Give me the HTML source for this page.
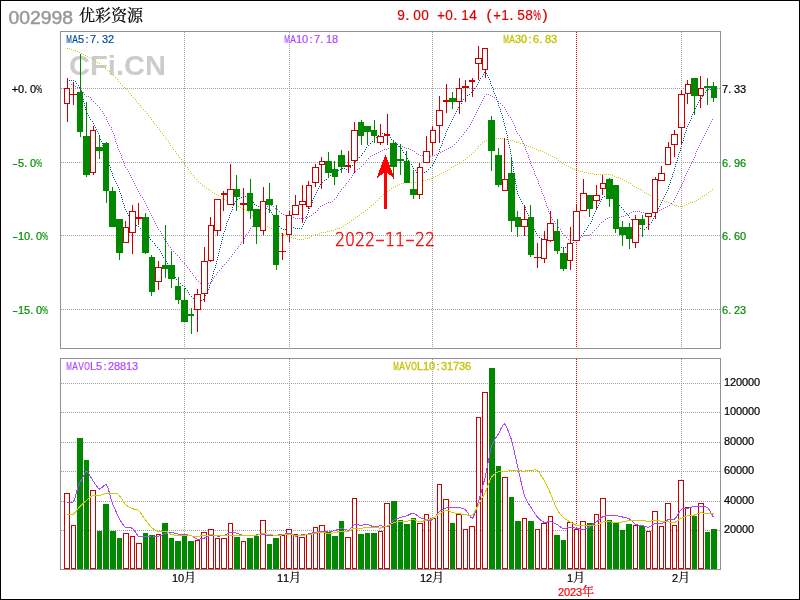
<!DOCTYPE html>
<html lang="zh-CN"><head><meta charset="utf-8"><title>002998 优彩资源</title>
<style>
html,body{margin:0;padding:0;background:#fff;}
body{width:800px;height:600px;overflow:hidden;position:relative;}
svg{position:absolute;left:0;top:0;display:block;}
#bd{position:absolute;left:0;top:0;width:798px;height:598px;border:1px solid #000;pointer-events:none;}
</style></head><body>
<svg width="800" height="600" viewBox="0 0 800 600">
<rect x="0" y="0" width="800" height="600" fill="#fff"/>
<text x="69" y="75" font-family="'Liberation Sans',sans-serif" font-weight="bold" font-size="28" fill="#cccccc" textLength="97" lengthAdjust="spacingAndGlyphs">CFi.CN</text>
<g shape-rendering="crispEdges">
<rect x="60.5" y="31.5" width="660" height="317" fill="none" stroke="#919191"/>
<rect x="60.5" y="358.5" width="660" height="211" fill="none" stroke="#919191"/>
<line x1="61" y1="88.5" x2="720" y2="88.5" stroke="#a0a0a0" stroke-dasharray="1 1" stroke-dashoffset="0"/>
<line x1="61" y1="162.5" x2="720" y2="162.5" stroke="#a0a0a0" stroke-dasharray="1 1" stroke-dashoffset="0"/>
<line x1="61" y1="235.5" x2="720" y2="235.5" stroke="#a0a0a0" stroke-dasharray="1 1" stroke-dashoffset="0"/>
<line x1="61" y1="309.5" x2="720" y2="309.5" stroke="#a0a0a0" stroke-dasharray="1 1" stroke-dashoffset="0"/>
<line x1="61" y1="383.5" x2="720" y2="383.5" stroke="#a0a0a0" stroke-dasharray="1 1" stroke-dashoffset="0"/>
<line x1="61" y1="412.5" x2="720" y2="412.5" stroke="#a0a0a0" stroke-dasharray="1 1" stroke-dashoffset="0"/>
<line x1="61" y1="442.5" x2="720" y2="442.5" stroke="#a0a0a0" stroke-dasharray="1 1" stroke-dashoffset="0"/>
<line x1="61" y1="471.5" x2="720" y2="471.5" stroke="#a0a0a0" stroke-dasharray="1 1" stroke-dashoffset="0"/>
<line x1="61" y1="501.5" x2="720" y2="501.5" stroke="#a0a0a0" stroke-dasharray="1 1" stroke-dashoffset="0"/>
<line x1="61" y1="530.5" x2="720" y2="530.5" stroke="#a0a0a0" stroke-dasharray="1 1" stroke-dashoffset="0"/>
<line x1="184.5" y1="32" x2="184.5" y2="348" stroke="#a0a0a0" stroke-dasharray="1 1" stroke-dashoffset="0"/>
<line x1="184.5" y1="359" x2="184.5" y2="569" stroke="#a0a0a0" stroke-dasharray="1 1" stroke-dashoffset="0"/>
<line x1="289.5" y1="32" x2="289.5" y2="348" stroke="#a0a0a0" stroke-dasharray="1 1" stroke-dashoffset="0"/>
<line x1="289.5" y1="359" x2="289.5" y2="569" stroke="#a0a0a0" stroke-dasharray="1 1" stroke-dashoffset="0"/>
<line x1="432.5" y1="32" x2="432.5" y2="348" stroke="#a0a0a0" stroke-dasharray="1 1" stroke-dashoffset="0"/>
<line x1="432.5" y1="359" x2="432.5" y2="569" stroke="#a0a0a0" stroke-dasharray="1 1" stroke-dashoffset="0"/>
<line x1="681.5" y1="32" x2="681.5" y2="348" stroke="#a0a0a0" stroke-dasharray="1 1" stroke-dashoffset="0"/>
<line x1="681.5" y1="359" x2="681.5" y2="569" stroke="#a0a0a0" stroke-dasharray="1 1" stroke-dashoffset="0"/>
<line x1="576.5" y1="32" x2="576.5" y2="348" stroke="#ff0000" stroke-dasharray="1 1" stroke-dashoffset="0"/>
<line x1="576.5" y1="359" x2="576.5" y2="569" stroke="#ff0000" stroke-dasharray="1 1" stroke-dashoffset="0"/>
</g>
<path d="M67 48.5h1M69 48.5h1M71 49.5h1M73 50.5h1M75 50.5h1M77 51.5h1M79 52.5h1M81 53.5h1M83 54.5h1M85 55.5h1M87 56.5h1M89 57.5h1M91 58.5h1M93 59.5h1M95 61.5h1M97 62.5h1M99 63.5h1M101 65.5h1M103 66.5h1M105 68.5h1M107 70.5h1M109 71.5h1M111 73.5h1M113 75.5h1M115 77.5h1M117 79.5h1M118 81.5h1M120 83.5h1M122 85.5h1M124 87.5h1M126 89.5h1M128 91.5h1M130 93.5h1M131 95.5h1M133 97.5h1M135 99.5h1M136 101.5h1M138 103.5h1M140 105.5h1M141 107.5h1M143 109.5h1M145 111.5h1M147 113.5h1M148 115.5h1M150 117.5h1M151 119.5h1M153 121.5h1M154 123.5h1M156 125.5h1M157 127.5h1M159 129.5h1M160 131.5h1M162 133.5h1M163 135.5h1M165 137.5h1M166 139.5h1M168 141.5h1M169 143.5h1M170 145.5h1M172 147.5h1M173 149.5h1M175 151.5h1M176 153.5h1M178 155.5h1M179 157.5h1M181 159.5h1M182 161.5h1M184 163.5h1M185 165.5h1M187 167.5h1M188 169.5h1M190 171.5h1M191 173.5h1M193 175.5h1M194 177.5h1M196 179.5h1M198 181.5h1M200 183.5h1M202 185.5h1M204 186.5h1M206 188.5h1M208 189.5h1M210 190.5h1M212 192.5h1M214 193.5h1M216 194.5h1M218 195.5h1M220 196.5h1M222 198.5h1M224 199.5h1M226 200.5h1M228 201.5h1M230 202.5h1M232 203.5h1M234 204.5h1M236 205.5h1M238 206.5h1M240 207.5h1M242 208.5h1M244 209.5h1M246 210.5h1M248 211.5h1M250 213.5h1M252 215.5h1M253 217.5h1M255 219.5h1M257 220.5h1M259 221.5h1M261 222.5h1M263 223.5h1M265 224.5h1M267 226.5h1M269 227.5h1M271 228.5h1M273 230.5h1M275 231.5h1M277 232.5h1M279 233.5h1M281 233.5h1M283 234.5h1M285 235.5h1M287 236.5h1M289 237.5h1M291 237.5h1M293 238.5h1M295 238.5h1M297 239.5h1M299 239.5h1M301 239.5h1M303 239.5h1M305 238.5h1M307 238.5h1M309 237.5h1M311 236.5h1M313 235.5h1M315 234.5h1M317 234.5h1M319 233.5h1M321 232.5h1M323 232.5h1M325 232.5h1M327 231.5h1M329 231.5h1M331 230.5h1M333 230.5h1M335 229.5h1M337 228.5h1M339 228.5h1M341 227.5h1M343 226.5h1M345 224.5h1M347 223.5h1M349 222.5h1M351 220.5h1M353 219.5h1M355 217.5h1M357 216.5h1M359 215.5h1M361 213.5h1M363 212.5h1M365 210.5h1M367 209.5h1M369 207.5h1M371 205.5h1M373 204.5h1M375 202.5h1M377 200.5h1M379 198.5h1M381 196.5h1M383 194.5h1M385 193.5h1M387 191.5h1M389 190.5h1M391 188.5h1M393 187.5h1M395 186.5h1M397 185.5h1M399 184.5h1M401 183.5h1M403 183.5h1M405 182.5h1M407 182.5h1M409 182.5h1M411 182.5h1M413 182.5h1M415 182.5h1M417 181.5h1M419 181.5h1M421 181.5h1M423 180.5h1M425 180.5h1M427 179.5h1M429 179.5h1M431 178.5h1M433 177.5h1M435 176.5h1M437 175.5h1M439 174.5h1M441 173.5h1M443 172.5h1M445 171.5h1M447 170.5h1M449 169.5h1M451 167.5h1M453 166.5h1M455 165.5h1M457 164.5h1M459 163.5h1M461 162.5h1M463 160.5h1M465 159.5h1M467 157.5h1M469 155.5h1M471 154.5h1M473 152.5h1M475 150.5h1M477 148.5h1M478 146.5h1M480 144.5h1M482 142.5h1M484 141.5h1M486 140.5h1M488 139.5h1M490 139.5h1M492 139.5h1M494 139.5h1M496 138.5h1M498 138.5h1M500 138.5h1M502 138.5h1M504 138.5h1M506 139.5h1M508 139.5h1M510 140.5h1M512 140.5h1M514 141.5h1M516 142.5h1M518 142.5h1M520 143.5h1M522 143.5h1M524 144.5h1M526 145.5h1M528 146.5h1M530 146.5h1M532 147.5h1M534 148.5h1M536 149.5h1M538 150.5h1M540 150.5h1M542 151.5h1M544 152.5h1M546 153.5h1M548 154.5h1M550 155.5h1M552 156.5h1M554 157.5h1M556 158.5h1M558 160.5h1M560 161.5h1M562 163.5h1M564 164.5h1M566 165.5h1M568 166.5h1M570 167.5h1M572 168.5h1M574 169.5h1M576 169.5h1M578 170.5h1M580 171.5h1M582 171.5h1M584 172.5h1M586 172.5h1M588 173.5h1M590 173.5h1M592 173.5h1M594 174.5h1M596 174.5h1M598 174.5h1M600 174.5h1M602 174.5h1M604 174.5h1M606 174.5h1M608 174.5h1M610 174.5h1M612 175.5h1M614 176.5h1M616 177.5h1M618 177.5h1M620 178.5h1M622 179.5h1M624 180.5h1M626 181.5h1M628 182.5h1M630 183.5h1M632 185.5h1M634 186.5h1M636 187.5h1M638 188.5h1M640 189.5h1M642 190.5h1M644 192.5h1M646 193.5h1M648 194.5h1M650 195.5h1M652 196.5h1M654 197.5h1M656 198.5h1M658 199.5h1M660 200.5h1M662 200.5h1M664 201.5h1M666 201.5h1M668 202.5h1M670 203.5h1M672 204.5h1M674 205.5h1M676 205.5h1M678 206.5h1M680 206.5h1M682 206.5h1M684 205.5h1M686 204.5h1M688 203.5h1M690 202.5h1M692 202.5h1M694 201.5h1M696 200.5h1M698 199.5h1M700 198.5h1M702 196.5h1M704 195.5h1M706 194.5h1M708 192.5h1M710 191.5h1M712 189.5h1" stroke="#cccc00" fill="none" shape-rendering="crispEdges"/>
<path d="M71 84.5h1M73 85.5h1M75 86.5h1M77 87.5h1M79 88.5h1M81 90.5h1M83 92.5h1M84 94.5h1M86 96.5h1M88 96.5h1M90 97.5h1M91 99.5h1M93 101.5h1M95 103.5h1M97 105.5h1M99 107.5h1M100 109.5h1M102 111.5h1M103 113.5h1M104 115.5h1M106 117.5h1M106 119.5h1M107 121.5h1M108 123.5h1M109 125.5h1M111 127.5h1M111 129.5h1M112 131.5h1M113 133.5h1M114 135.5h1M114 137.5h1M115 139.5h1M115 141.5h1M116 143.5h1M117 145.5h1M117 147.5h1M118 149.5h1M119 151.5h1M120 153.5h1M121 155.5h1M121 157.5h1M122 159.5h1M123 161.5h1M124 163.5h1M124 165.5h1M125 167.5h1M127 169.5h1M128 171.5h1M129 173.5h1M130 175.5h1M131 177.5h1M132 179.5h1M133 181.5h1M134 183.5h1M135 185.5h1M136 187.5h1M137 189.5h1M138 191.5h1M139 193.5h1M140 195.5h1M142 197.5h1M143 199.5h1M144 201.5h1M145 203.5h1M146 205.5h1M147 207.5h1M148 209.5h1M149 211.5h1M150 213.5h1M151 215.5h1M152 217.5h1M153 219.5h1M154 221.5h1M155 223.5h1M156 225.5h1M157 227.5h1M158 229.5h1M160 231.5h1M161 233.5h1M162 235.5h1M163 237.5h1M164 239.5h1M166 241.5h1M167 243.5h1M168 245.5h1M170 247.5h1M171 249.5h1M173 251.5h1M175 253.5h1M177 255.5h1M179 257.5h1M180 259.5h1M182 261.5h1M184 263.5h1M186 265.5h1M187 267.5h1M189 269.5h1M190 271.5h1M192 273.5h1M193 275.5h1M195 277.5h1M196 279.5h1M198 281.5h1M200 283.5h1M202 284.5h1M204 285.5h1M206 284.5h1M208 283.5h1M210 282.5h1M212 280.5h1M213 278.5h1M214 276.5h1M216 274.5h1M217 272.5h1M219 270.5h1M221 268.5h1M222 266.5h1M224 264.5h1M226 262.5h1M228 260.5h1M229 258.5h1M231 256.5h1M232 254.5h1M234 252.5h1M235 250.5h1M237 248.5h1M238 246.5h1M240 244.5h1M241 242.5h1M243 240.5h1M244 238.5h1M245 236.5h1M246 234.5h1M248 232.5h1M249 230.5h1M250 228.5h1M252 226.5h1M253 224.5h1M254 222.5h1M256 220.5h1M257 218.5h1M259 216.5h1M260 214.5h1M262 212.5h1M263 210.5h1M265 208.5h1M267 206.5h1M269 205.5h1M271 205.5h1M273 206.5h1M275 208.5h1M277 209.5h1M279 211.5h1M281 213.5h1M283 214.5h1M285 215.5h1M287 215.5h1M289 216.5h1M291 217.5h1M293 217.5h1M295 218.5h1M297 218.5h1M299 218.5h1M301 218.5h1M303 218.5h1M305 217.5h1M307 217.5h1M309 216.5h1M311 215.5h1M313 213.5h1M315 212.5h1M317 210.5h1M318 208.5h1M320 206.5h1M322 205.5h1M324 204.5h1M326 203.5h1M328 202.5h1M330 202.5h1M332 201.5h1M334 199.5h1M336 197.5h1M337 195.5h1M338 193.5h1M340 191.5h1M341 189.5h1M343 187.5h1M345 185.5h1M346 183.5h1M348 181.5h1M349 179.5h1M351 177.5h1M352 175.5h1M353 173.5h1M355 171.5h1M357 169.5h1M359 168.5h1M361 166.5h1M363 164.5h1M365 162.5h1M366 160.5h1M368 158.5h1M370 156.5h1M372 155.5h1M374 154.5h1M376 153.5h1M378 152.5h1M380 151.5h1M382 150.5h1M384 149.5h1M386 149.5h1M388 148.5h1M390 148.5h1M392 148.5h1M394 147.5h1M396 147.5h1M398 146.5h1M400 146.5h1M402 146.5h1M404 147.5h1M406 148.5h1M408 148.5h1M410 149.5h1M412 150.5h1M414 151.5h1M416 153.5h1M418 154.5h1M420 155.5h1M422 155.5h1M424 155.5h1M426 156.5h1M428 156.5h1M430 156.5h1M432 155.5h1M434 155.5h1M436 154.5h1M438 153.5h1M440 152.5h1M442 151.5h1M444 150.5h1M446 149.5h1M448 148.5h1M450 147.5h1M452 146.5h1M454 144.5h1M456 142.5h1M458 140.5h1M459 138.5h1M461 136.5h1M463 134.5h1M464 132.5h1M466 130.5h1M467 128.5h1M469 126.5h1M470 124.5h1M471 122.5h1M472 120.5h1M473 118.5h1M474 116.5h1M475 114.5h1M476 112.5h1M477 110.5h1M478 108.5h1M479 106.5h1M480 104.5h1M481 102.5h1M482 100.5h1M483 98.5h1M484 96.5h1M486 94.5h1M488 94.5h1M490 95.5h1M492 96.5h1M494 97.5h1M496 99.5h1M498 101.5h1M500 103.5h1M502 105.5h1M504 107.5h1M505 109.5h1M506 111.5h1M507 113.5h1M508 115.5h1M510 117.5h1M511 119.5h1M512 121.5h1M513 123.5h1M514 125.5h1M515 127.5h1M515 129.5h1M516 131.5h1M517 133.5h1M519 135.5h1M520 137.5h1M521 139.5h1M522 141.5h1M523 143.5h1M524 145.5h1M525 147.5h1M525 149.5h1M526 151.5h1M527 153.5h1M528 155.5h1M528 157.5h1M529 159.5h1M530 161.5h1M530 163.5h1M531 165.5h1M532 167.5h1M533 169.5h1M534 171.5h1M534 173.5h1M535 175.5h1M536 177.5h1M537 179.5h1M538 181.5h1M538 183.5h1M539 185.5h1M540 187.5h1M541 189.5h1M541 191.5h1M542 193.5h1M543 195.5h1M544 197.5h1M544 199.5h1M545 201.5h1M546 203.5h1M546 205.5h1M547 207.5h1M548 209.5h1M548 211.5h1M549 213.5h1M550 215.5h1M551 217.5h1M552 219.5h1M554 221.5h1M555 223.5h1M557 225.5h1M558 227.5h1M560 229.5h1M561 231.5h1M562 233.5h1M564 235.5h1M566 237.5h1M568 239.5h1M570 240.5h1M572 240.5h1M574 240.5h1M576 239.5h1M578 238.5h1M580 237.5h1M582 236.5h1M584 235.5h1M586 235.5h1M588 235.5h1M590 234.5h1M592 232.5h1M594 230.5h1M596 228.5h1M598 226.5h1M599 224.5h1M601 222.5h1M603 221.5h1M605 219.5h1M607 218.5h1M609 217.5h1M611 217.5h1M613 217.5h1M615 218.5h1M617 217.5h1M619 217.5h1M621 216.5h1M623 216.5h1M625 215.5h1M627 214.5h1M629 213.5h1M631 212.5h1M633 211.5h1M635 211.5h1M637 211.5h1M639 211.5h1M641 212.5h1M643 212.5h1M645 213.5h1M647 214.5h1M649 214.5h1M651 213.5h1M653 212.5h1M655 211.5h1M657 210.5h1M659 210.5h1M661 209.5h1M663 208.5h1M665 207.5h1M667 206.5h1M669 205.5h1M671 203.5h1M673 201.5h1M674 199.5h1M675 197.5h1M676 195.5h1M677 193.5h1M678 191.5h1M679 189.5h1M680 187.5h1M681 185.5h1M682 183.5h1M683 181.5h1M684 179.5h1M684 177.5h1M685 175.5h1M686 173.5h1M687 171.5h1M688 169.5h1M689 167.5h1M690 165.5h1M691 163.5h1M692 161.5h1M693 159.5h1M694 157.5h1M695 155.5h1M695 153.5h1M696 151.5h1M697 149.5h1M698 147.5h1M699 145.5h1M700 143.5h1M701 141.5h1M702 139.5h1M703 137.5h1M704 135.5h1M705 133.5h1M706 131.5h1M707 129.5h1M708 127.5h1M709 125.5h1M710 123.5h1M711 121.5h1M712 119.5h1" stroke="#aa46ff" fill="none" shape-rendering="crispEdges"/>
<path d="M67 80.5h1M69 80.5h1M71 80.5h1M73 80.5h1M75 81.5h1M76 83.5h1M78 85.5h1M79 87.5h1M80 89.5h1M81 91.5h1M81 93.5h1M82 95.5h1M82 97.5h1M83 99.5h1M83 101.5h1M84 103.5h1M84 105.5h1M85 107.5h1M85 109.5h1M86 111.5h1M87 113.5h1M88 115.5h1M89 117.5h1M90 119.5h1M92 121.5h1M93 123.5h1M94 125.5h1M95 127.5h1M96 129.5h1M97 131.5h1M98 133.5h1M99 135.5h1M99 137.5h1M100 139.5h1M101 141.5h1M102 143.5h1M102 145.5h1M103 147.5h1M104 149.5h1M105 151.5h1M105 153.5h1M106 155.5h1M107 157.5h1M107 159.5h1M108 161.5h1M108 163.5h1M109 165.5h1M110 167.5h1M110 169.5h1M111 171.5h1M112 173.5h1M112 175.5h1M113 177.5h1M114 179.5h1M115 181.5h1M116 183.5h1M117 185.5h1M118 187.5h1M119 189.5h1M119 191.5h1M120 193.5h1M121 195.5h1M121 197.5h1M122 199.5h1M122 201.5h1M123 203.5h1M124 205.5h1M124 207.5h1M125 209.5h1M126 211.5h1M127 213.5h1M128 215.5h1M129 217.5h1M131 219.5h1M132 221.5h1M134 223.5h1M136 225.5h1M138 226.5h1M140 228.5h1M142 229.5h1M144 231.5h1M146 233.5h1M147 235.5h1M149 237.5h1M150 239.5h1M152 241.5h1M154 243.5h1M155 245.5h1M157 247.5h1M159 249.5h1M160 251.5h1M161 253.5h1M162 255.5h1M163 257.5h1M165 259.5h1M166 261.5h1M167 263.5h1M168 265.5h1M169 267.5h1M170 269.5h1M171 271.5h1M172 273.5h1M173 275.5h1M175 277.5h1M176 279.5h1M178 281.5h1M180 283.5h1M182 285.5h1M184 286.5h1M185 288.5h1M187 290.5h1M188 292.5h1M189 294.5h1M191 296.5h1M193 298.5h1M195 300.5h1M197 301.5h1M199 301.5h1M201 300.5h1M203 299.5h1M204 297.5h1M205 295.5h1M206 293.5h1M207 291.5h1M208 289.5h1M209 287.5h1M209 285.5h1M210 283.5h1M211 281.5h1M211 279.5h1M212 277.5h1M212 275.5h1M213 273.5h1M213 271.5h1M214 269.5h1M215 267.5h1M215 265.5h1M216 263.5h1M216 261.5h1M217 259.5h1M217 257.5h1M218 255.5h1M218 253.5h1M219 251.5h1M219 249.5h1M220 247.5h1M220 245.5h1M221 243.5h1M221 241.5h1M222 239.5h1M222 237.5h1M223 235.5h1M223 233.5h1M224 231.5h1M225 229.5h1M225 227.5h1M226 225.5h1M226 223.5h1M227 221.5h1M228 219.5h1M229 217.5h1M229 215.5h1M230 213.5h1M231 211.5h1M232 209.5h1M232 207.5h1M233 205.5h1M234 203.5h1M235 201.5h1M237 199.5h1M239 198.5h1M241 197.5h1M243 196.5h1M245 196.5h1M247 197.5h1M249 198.5h1M251 200.5h1M253 202.5h1M254 204.5h1M256 205.5h1M258 206.5h1M260 207.5h1M262 207.5h1M264 208.5h1M266 208.5h1M268 209.5h1M270 210.5h1M271 212.5h1M272 214.5h1M273 216.5h1M274 218.5h1M275 220.5h1M277 222.5h1M278 224.5h1M279 226.5h1M281 228.5h1M283 229.5h1M285 229.5h1M287 228.5h1M289 227.5h1M291 227.5h1M293 227.5h1M295 228.5h1M297 228.5h1M299 228.5h1M301 228.5h1M302 226.5h1M303 224.5h1M304 222.5h1M305 220.5h1M306 218.5h1M306 216.5h1M307 214.5h1M308 212.5h1M308 210.5h1M309 208.5h1M310 206.5h1M311 204.5h1M312 202.5h1M312 200.5h1M313 198.5h1M314 196.5h1M315 194.5h1M316 192.5h1M317 190.5h1M318 188.5h1M319 186.5h1M320 184.5h1M322 182.5h1M324 180.5h1M326 179.5h1M328 177.5h1M330 175.5h1M332 174.5h1M334 172.5h1M336 171.5h1M338 170.5h1M340 169.5h1M342 168.5h1M344 168.5h1M346 169.5h1M348 168.5h1M350 167.5h1M352 165.5h1M354 163.5h1M355 161.5h1M357 159.5h1M359 157.5h1M361 155.5h1M362 153.5h1M364 151.5h1M365 149.5h1M366 147.5h1M368 145.5h1M370 143.5h1M372 141.5h1M374 139.5h1M376 137.5h1M378 135.5h1M380 134.5h1M382 133.5h1M384 133.5h1M386 134.5h1M388 135.5h1M390 137.5h1M391 139.5h1M393 141.5h1M395 142.5h1M397 144.5h1M399 146.5h1M401 148.5h1M402 150.5h1M403 152.5h1M405 154.5h1M406 156.5h1M407 158.5h1M408 160.5h1M409 162.5h1M411 164.5h1M412 166.5h1M413 168.5h1M415 170.5h1M416 172.5h1M418 173.5h1M420 174.5h1M422 173.5h1M424 172.5h1M426 171.5h1M428 169.5h1M430 167.5h1M432 165.5h1M433 163.5h1M434 161.5h1M435 159.5h1M436 157.5h1M437 155.5h1M438 153.5h1M439 151.5h1M439 149.5h1M440 147.5h1M441 145.5h1M442 143.5h1M442 141.5h1M443 139.5h1M444 137.5h1M445 135.5h1M445 133.5h1M446 131.5h1M447 129.5h1M448 127.5h1M449 125.5h1M450 123.5h1M451 121.5h1M452 119.5h1M453 117.5h1M454 115.5h1M455 113.5h1M456 111.5h1M457 109.5h1M458 107.5h1M459 105.5h1M461 103.5h1M462 101.5h1M463 99.5h1M465 97.5h1M467 95.5h1M469 94.5h1M471 92.5h1M473 90.5h1M474 88.5h1M476 86.5h1M477 84.5h1M478 82.5h1M479 80.5h1M480 78.5h1M482 76.5h1M483 74.5h1M484 72.5h1M486 73.5h1M487 75.5h1M488 77.5h1M489 79.5h1M490 81.5h1M490 83.5h1M491 85.5h1M492 87.5h1M493 89.5h1M493 91.5h1M494 93.5h1M495 95.5h1M496 97.5h1M496 99.5h1M497 101.5h1M498 103.5h1M498 105.5h1M499 107.5h1M500 109.5h1M500 111.5h1M501 113.5h1M502 115.5h1M502 117.5h1M503 119.5h1M503 121.5h1M504 123.5h1M504 125.5h1M505 127.5h1M505 129.5h1M506 131.5h1M506 133.5h1M507 135.5h1M507 137.5h1M507 139.5h1M508 141.5h1M508 143.5h1M509 145.5h1M509 147.5h1M510 149.5h1M510 151.5h1M510 153.5h1M511 155.5h1M511 157.5h1M511 159.5h1M512 161.5h1M512 163.5h1M512 165.5h1M513 167.5h1M513 169.5h1M513 171.5h1M514 173.5h1M514 175.5h1M514 177.5h1M515 179.5h1M515 181.5h1M515 183.5h1M516 185.5h1M516 187.5h1M516 189.5h1M517 191.5h1M517 193.5h1M518 195.5h1M519 197.5h1M520 199.5h1M521 201.5h1M522 203.5h1M524 205.5h1M525 207.5h1M525 209.5h1M526 211.5h1M527 213.5h1M528 215.5h1M529 217.5h1M530 219.5h1M531 221.5h1M531 223.5h1M532 225.5h1M533 227.5h1M534 229.5h1M535 231.5h1M536 233.5h1M537 235.5h1M539 237.5h1M541 238.5h1M543 239.5h1M545 239.5h1M547 239.5h1M549 238.5h1M551 239.5h1M553 240.5h1M555 242.5h1M557 244.5h1M559 246.5h1M561 247.5h1M563 247.5h1M565 247.5h1M567 246.5h1M569 245.5h1M571 244.5h1M573 242.5h1M575 240.5h1M577 238.5h1M579 237.5h1M581 235.5h1M583 233.5h1M584 231.5h1M586 229.5h1M587 227.5h1M588 225.5h1M590 223.5h1M591 221.5h1M592 219.5h1M592 217.5h1M593 215.5h1M594 213.5h1M595 211.5h1M596 209.5h1M597 207.5h1M598 205.5h1M599 203.5h1M600 201.5h1M601 199.5h1M602 197.5h1M604 196.5h1M606 195.5h1M608 195.5h1M610 196.5h1M612 198.5h1M613 200.5h1M615 202.5h1M617 204.5h1M619 205.5h1M621 207.5h1M623 209.5h1M624 211.5h1M626 213.5h1M628 215.5h1M629 217.5h1M631 219.5h1M632 221.5h1M634 223.5h1M636 225.5h1M638 226.5h1M640 228.5h1M642 229.5h1M644 229.5h1M646 227.5h1M648 226.5h1M649 224.5h1M651 222.5h1M652 220.5h1M653 218.5h1M654 216.5h1M655 214.5h1M656 212.5h1M657 210.5h1M658 208.5h1M659 206.5h1M660 204.5h1M661 202.5h1M662 200.5h1M663 198.5h1M664 196.5h1M665 194.5h1M666 192.5h1M667 190.5h1M668 188.5h1M668 186.5h1M669 184.5h1M670 182.5h1M670 180.5h1M671 178.5h1M672 176.5h1M672 174.5h1M673 172.5h1M674 170.5h1M674 168.5h1M675 166.5h1M675 164.5h1M676 162.5h1M677 160.5h1M677 158.5h1M678 156.5h1M678 154.5h1M679 152.5h1M680 150.5h1M680 148.5h1M681 146.5h1M681 144.5h1M682 142.5h1M683 140.5h1M683 138.5h1M684 136.5h1M684 134.5h1M685 132.5h1M686 130.5h1M686 128.5h1M687 126.5h1M688 124.5h1M689 122.5h1M690 120.5h1M691 118.5h1M691 116.5h1M692 114.5h1M693 112.5h1M694 110.5h1M695 108.5h1M696 106.5h1M697 104.5h1M698 102.5h1M699 100.5h1M701 98.5h1M702 96.5h1M703 94.5h1M705 92.5h1M706 90.5h1M708 89.5h1M710 89.5h1M712 90.5h1" stroke="#0050a0" fill="none" shape-rendering="crispEdges"/>
<g shape-rendering="crispEdges">
<rect x="67" y="78" width="1" height="10" fill="#cc0000"/>
<rect x="67" y="104" width="1" height="18" fill="#cc0000"/>
<rect x="64" y="88" width="6" height="16" fill="#cc0000"/>
<rect x="65" y="89" width="4" height="14" fill="#fff"/>
<rect x="73" y="82" width="1" height="23" fill="#cc0000"/>
<rect x="70" y="94" width="7" height="1" fill="#cc0000"/>
<rect x="80" y="54" width="1" height="83" fill="#008800"/>
<rect x="77" y="92" width="6" height="40" fill="#008800"/>
<rect x="86" y="102" width="1" height="75" fill="#008800"/>
<rect x="83" y="136" width="7" height="39" fill="#008800"/>
<rect x="93" y="126" width="1" height="4" fill="#cc0000"/>
<rect x="93" y="173" width="1" height="2" fill="#cc0000"/>
<rect x="90" y="130" width="6" height="43" fill="#cc0000"/>
<rect x="91" y="131" width="4" height="41" fill="#fff"/>
<rect x="99" y="136" width="1" height="23" fill="#008800"/>
<rect x="96" y="147" width="7" height="4" fill="#008800"/>
<rect x="106" y="142" width="1" height="61" fill="#008800"/>
<rect x="103" y="143" width="6" height="48" fill="#008800"/>
<rect x="112" y="187" width="1" height="40" fill="#008800"/>
<rect x="109" y="191" width="7" height="36" fill="#008800"/>
<rect x="119" y="219" width="1" height="41" fill="#008800"/>
<rect x="116" y="219" width="7" height="34" fill="#008800"/>
<rect x="125" y="221" width="1" height="6" fill="#cc0000"/>
<rect x="123" y="227" width="6" height="16" fill="#cc0000"/>
<rect x="124" y="228" width="4" height="14" fill="#fff"/>
<rect x="132" y="205" width="1" height="6" fill="#cc0000"/>
<rect x="132" y="233" width="1" height="21" fill="#cc0000"/>
<rect x="129" y="211" width="7" height="22" fill="#cc0000"/>
<rect x="130" y="212" width="5" height="20" fill="#fff"/>
<rect x="138" y="203" width="1" height="22" fill="#cc0000"/>
<rect x="136" y="217" width="6" height="2" fill="#cc0000"/>
<rect x="145" y="213" width="1" height="41" fill="#008800"/>
<rect x="142" y="217" width="7" height="36" fill="#008800"/>
<rect x="151" y="255" width="1" height="41" fill="#008800"/>
<rect x="149" y="257" width="6" height="35" fill="#008800"/>
<rect x="158" y="261" width="1" height="6" fill="#cc0000"/>
<rect x="158" y="282" width="1" height="8" fill="#cc0000"/>
<rect x="155" y="267" width="7" height="15" fill="#cc0000"/>
<rect x="156" y="268" width="5" height="13" fill="#fff"/>
<rect x="165" y="225" width="1" height="53" fill="#008800"/>
<rect x="162" y="265" width="6" height="4" fill="#008800"/>
<rect x="171" y="251" width="1" height="37" fill="#008800"/>
<rect x="168" y="265" width="7" height="14" fill="#008800"/>
<rect x="178" y="277" width="1" height="27" fill="#008800"/>
<rect x="175" y="286" width="6" height="14" fill="#008800"/>
<rect x="184" y="288" width="1" height="34" fill="#008800"/>
<rect x="181" y="300" width="7" height="22" fill="#008800"/>
<rect x="191" y="308" width="1" height="26" fill="#008800"/>
<rect x="188" y="314" width="6" height="2" fill="#008800"/>
<rect x="197" y="289" width="1" height="5" fill="#cc0000"/>
<rect x="197" y="310" width="1" height="22" fill="#cc0000"/>
<rect x="194" y="294" width="7" height="16" fill="#cc0000"/>
<rect x="195" y="295" width="5" height="14" fill="#fff"/>
<rect x="204" y="247" width="1" height="14" fill="#cc0000"/>
<rect x="204" y="294" width="1" height="8" fill="#cc0000"/>
<rect x="201" y="261" width="7" height="33" fill="#cc0000"/>
<rect x="202" y="262" width="5" height="31" fill="#fff"/>
<rect x="210" y="217" width="1" height="8" fill="#cc0000"/>
<rect x="210" y="261" width="1" height="1" fill="#cc0000"/>
<rect x="208" y="225" width="6" height="36" fill="#cc0000"/>
<rect x="209" y="226" width="4" height="34" fill="#fff"/>
<rect x="217" y="231" width="1" height="5" fill="#cc0000"/>
<rect x="214" y="199" width="7" height="32" fill="#cc0000"/>
<rect x="215" y="200" width="5" height="30" fill="#fff"/>
<rect x="223" y="191" width="1" height="20" fill="#cc0000"/>
<rect x="221" y="193" width="6" height="2" fill="#cc0000"/>
<rect x="230" y="164" width="1" height="25" fill="#cc0000"/>
<rect x="227" y="189" width="7" height="16" fill="#cc0000"/>
<rect x="228" y="190" width="5" height="14" fill="#fff"/>
<rect x="236" y="175" width="1" height="36" fill="#008800"/>
<rect x="234" y="189" width="6" height="8" fill="#008800"/>
<rect x="243" y="188" width="1" height="56" fill="#cc0000"/>
<rect x="240" y="203" width="7" height="2" fill="#cc0000"/>
<rect x="250" y="179" width="1" height="40" fill="#008800"/>
<rect x="247" y="193" width="6" height="18" fill="#008800"/>
<rect x="256" y="209" width="1" height="35" fill="#008800"/>
<rect x="253" y="209" width="7" height="18" fill="#008800"/>
<rect x="263" y="187" width="1" height="14" fill="#cc0000"/>
<rect x="263" y="231" width="1" height="4" fill="#cc0000"/>
<rect x="260" y="201" width="6" height="30" fill="#cc0000"/>
<rect x="261" y="202" width="4" height="28" fill="#fff"/>
<rect x="269" y="183" width="1" height="30" fill="#008800"/>
<rect x="266" y="199" width="7" height="6" fill="#008800"/>
<rect x="276" y="205" width="1" height="65" fill="#008800"/>
<rect x="273" y="215" width="6" height="50" fill="#008800"/>
<rect x="282" y="233" width="1" height="27" fill="#cc0000"/>
<rect x="279" y="251" width="7" height="1" fill="#cc0000"/>
<rect x="289" y="211" width="1" height="4" fill="#cc0000"/>
<rect x="289" y="235" width="1" height="7" fill="#cc0000"/>
<rect x="286" y="215" width="6" height="20" fill="#cc0000"/>
<rect x="287" y="216" width="4" height="18" fill="#fff"/>
<rect x="295" y="195" width="1" height="10" fill="#cc0000"/>
<rect x="292" y="205" width="7" height="10" fill="#cc0000"/>
<rect x="293" y="206" width="5" height="8" fill="#fff"/>
<rect x="302" y="185" width="1" height="16" fill="#cc0000"/>
<rect x="302" y="205" width="1" height="18" fill="#cc0000"/>
<rect x="299" y="201" width="7" height="4" fill="#cc0000"/>
<rect x="300" y="202" width="5" height="2" fill="#fff"/>
<rect x="308" y="181" width="1" height="4" fill="#cc0000"/>
<rect x="308" y="207" width="1" height="2" fill="#cc0000"/>
<rect x="306" y="185" width="6" height="22" fill="#cc0000"/>
<rect x="307" y="186" width="4" height="20" fill="#fff"/>
<rect x="315" y="164" width="1" height="3" fill="#cc0000"/>
<rect x="315" y="183" width="1" height="4" fill="#cc0000"/>
<rect x="312" y="167" width="7" height="16" fill="#cc0000"/>
<rect x="313" y="168" width="5" height="14" fill="#fff"/>
<rect x="321" y="157" width="1" height="4" fill="#cc0000"/>
<rect x="321" y="165" width="1" height="24" fill="#cc0000"/>
<rect x="319" y="161" width="6" height="4" fill="#cc0000"/>
<rect x="320" y="162" width="4" height="2" fill="#fff"/>
<rect x="328" y="152" width="1" height="26" fill="#008800"/>
<rect x="325" y="161" width="7" height="12" fill="#008800"/>
<rect x="334" y="161" width="1" height="24" fill="#008800"/>
<rect x="332" y="169" width="6" height="8" fill="#008800"/>
<rect x="341" y="150" width="1" height="23" fill="#008800"/>
<rect x="338" y="155" width="7" height="12" fill="#008800"/>
<rect x="348" y="151" width="1" height="22" fill="#cc0000"/>
<rect x="345" y="165" width="6" height="2" fill="#cc0000"/>
<rect x="354" y="122" width="1" height="8" fill="#cc0000"/>
<rect x="354" y="161" width="1" height="12" fill="#cc0000"/>
<rect x="351" y="130" width="7" height="31" fill="#cc0000"/>
<rect x="352" y="131" width="5" height="29" fill="#fff"/>
<rect x="361" y="120" width="1" height="25" fill="#008800"/>
<rect x="358" y="122" width="6" height="14" fill="#008800"/>
<rect x="367" y="126" width="1" height="19" fill="#008800"/>
<rect x="364" y="126" width="7" height="6" fill="#008800"/>
<rect x="374" y="120" width="1" height="23" fill="#008800"/>
<rect x="371" y="130" width="6" height="6" fill="#008800"/>
<rect x="380" y="124" width="1" height="12" fill="#cc0000"/>
<rect x="380" y="143" width="1" height="2" fill="#cc0000"/>
<rect x="377" y="136" width="7" height="7" fill="#cc0000"/>
<rect x="378" y="137" width="5" height="5" fill="#fff"/>
<rect x="387" y="114" width="1" height="31" fill="#cc0000"/>
<rect x="384" y="134" width="6" height="2" fill="#cc0000"/>
<rect x="393" y="140" width="1" height="39" fill="#008800"/>
<rect x="390" y="143" width="7" height="24" fill="#008800"/>
<rect x="400" y="144" width="1" height="31" fill="#008800"/>
<rect x="397" y="159" width="7" height="2" fill="#008800"/>
<rect x="406" y="151" width="1" height="32" fill="#008800"/>
<rect x="404" y="161" width="6" height="22" fill="#008800"/>
<rect x="413" y="170" width="1" height="29" fill="#008800"/>
<rect x="410" y="189" width="7" height="6" fill="#008800"/>
<rect x="419" y="163" width="1" height="4" fill="#cc0000"/>
<rect x="419" y="195" width="1" height="4" fill="#cc0000"/>
<rect x="417" y="167" width="6" height="28" fill="#cc0000"/>
<rect x="418" y="168" width="4" height="26" fill="#fff"/>
<rect x="426" y="136" width="1" height="15" fill="#cc0000"/>
<rect x="423" y="151" width="7" height="12" fill="#cc0000"/>
<rect x="424" y="152" width="5" height="10" fill="#fff"/>
<rect x="432" y="126" width="1" height="4" fill="#cc0000"/>
<rect x="432" y="143" width="1" height="12" fill="#cc0000"/>
<rect x="430" y="130" width="6" height="13" fill="#cc0000"/>
<rect x="431" y="131" width="4" height="11" fill="#fff"/>
<rect x="439" y="96" width="1" height="14" fill="#cc0000"/>
<rect x="439" y="126" width="1" height="17" fill="#cc0000"/>
<rect x="436" y="110" width="7" height="16" fill="#cc0000"/>
<rect x="437" y="111" width="5" height="14" fill="#fff"/>
<rect x="446" y="84" width="1" height="29" fill="#cc0000"/>
<rect x="443" y="100" width="6" height="2" fill="#cc0000"/>
<rect x="452" y="92" width="1" height="17" fill="#008800"/>
<rect x="449" y="98" width="7" height="4" fill="#008800"/>
<rect x="459" y="78" width="1" height="10" fill="#cc0000"/>
<rect x="459" y="102" width="1" height="12" fill="#cc0000"/>
<rect x="456" y="88" width="6" height="14" fill="#cc0000"/>
<rect x="457" y="89" width="4" height="12" fill="#fff"/>
<rect x="465" y="80" width="1" height="22" fill="#cc0000"/>
<rect x="462" y="86" width="7" height="2" fill="#cc0000"/>
<rect x="472" y="78" width="1" height="19" fill="#cc0000"/>
<rect x="469" y="80" width="6" height="2" fill="#cc0000"/>
<rect x="478" y="46" width="1" height="12" fill="#cc0000"/>
<rect x="478" y="64" width="1" height="16" fill="#cc0000"/>
<rect x="475" y="58" width="7" height="6" fill="#cc0000"/>
<rect x="476" y="59" width="5" height="4" fill="#fff"/>
<rect x="485" y="70" width="1" height="8" fill="#cc0000"/>
<rect x="482" y="48" width="6" height="22" fill="#cc0000"/>
<rect x="483" y="49" width="4" height="20" fill="#fff"/>
<rect x="491" y="116" width="1" height="55" fill="#008800"/>
<rect x="488" y="120" width="7" height="31" fill="#008800"/>
<rect x="498" y="148" width="1" height="39" fill="#008800"/>
<rect x="495" y="155" width="7" height="30" fill="#008800"/>
<rect x="504" y="138" width="1" height="41" fill="#cc0000"/>
<rect x="502" y="179" width="6" height="12" fill="#cc0000"/>
<rect x="503" y="180" width="4" height="10" fill="#fff"/>
<rect x="511" y="158" width="1" height="74" fill="#008800"/>
<rect x="508" y="173" width="7" height="48" fill="#008800"/>
<rect x="517" y="211" width="1" height="26" fill="#008800"/>
<rect x="515" y="217" width="6" height="10" fill="#008800"/>
<rect x="524" y="206" width="1" height="13" fill="#cc0000"/>
<rect x="524" y="227" width="1" height="9" fill="#cc0000"/>
<rect x="521" y="219" width="7" height="8" fill="#cc0000"/>
<rect x="522" y="220" width="5" height="6" fill="#fff"/>
<rect x="530" y="205" width="1" height="52" fill="#008800"/>
<rect x="528" y="217" width="6" height="38" fill="#008800"/>
<rect x="537" y="243" width="1" height="25" fill="#cc0000"/>
<rect x="534" y="257" width="7" height="1" fill="#cc0000"/>
<rect x="544" y="231" width="1" height="8" fill="#cc0000"/>
<rect x="544" y="259" width="1" height="4" fill="#cc0000"/>
<rect x="541" y="239" width="6" height="20" fill="#cc0000"/>
<rect x="542" y="240" width="4" height="18" fill="#fff"/>
<rect x="550" y="211" width="1" height="12" fill="#cc0000"/>
<rect x="550" y="241" width="1" height="1" fill="#cc0000"/>
<rect x="547" y="223" width="7" height="18" fill="#cc0000"/>
<rect x="548" y="224" width="5" height="16" fill="#fff"/>
<rect x="557" y="219" width="1" height="35" fill="#008800"/>
<rect x="554" y="231" width="6" height="20" fill="#008800"/>
<rect x="563" y="247" width="1" height="24" fill="#008800"/>
<rect x="560" y="253" width="7" height="16" fill="#008800"/>
<rect x="570" y="227" width="1" height="16" fill="#cc0000"/>
<rect x="570" y="261" width="1" height="9" fill="#cc0000"/>
<rect x="567" y="243" width="6" height="18" fill="#cc0000"/>
<rect x="568" y="244" width="4" height="16" fill="#fff"/>
<rect x="576" y="204" width="1" height="7" fill="#cc0000"/>
<rect x="573" y="211" width="7" height="30" fill="#cc0000"/>
<rect x="574" y="212" width="5" height="28" fill="#fff"/>
<rect x="583" y="179" width="1" height="14" fill="#cc0000"/>
<rect x="580" y="193" width="7" height="18" fill="#cc0000"/>
<rect x="581" y="194" width="5" height="16" fill="#fff"/>
<rect x="589" y="195" width="1" height="22" fill="#008800"/>
<rect x="587" y="195" width="6" height="14" fill="#008800"/>
<rect x="596" y="185" width="1" height="10" fill="#cc0000"/>
<rect x="596" y="201" width="1" height="8" fill="#cc0000"/>
<rect x="593" y="195" width="7" height="6" fill="#cc0000"/>
<rect x="594" y="196" width="5" height="4" fill="#fff"/>
<rect x="602" y="175" width="1" height="8" fill="#cc0000"/>
<rect x="602" y="189" width="1" height="6" fill="#cc0000"/>
<rect x="600" y="183" width="6" height="6" fill="#cc0000"/>
<rect x="601" y="184" width="4" height="4" fill="#fff"/>
<rect x="609" y="178" width="1" height="29" fill="#008800"/>
<rect x="606" y="179" width="7" height="20" fill="#008800"/>
<rect x="615" y="185" width="1" height="48" fill="#008800"/>
<rect x="613" y="185" width="6" height="44" fill="#008800"/>
<rect x="622" y="221" width="1" height="25" fill="#008800"/>
<rect x="619" y="227" width="7" height="8" fill="#008800"/>
<rect x="629" y="223" width="1" height="26" fill="#008800"/>
<rect x="626" y="227" width="6" height="12" fill="#008800"/>
<rect x="635" y="215" width="1" height="4" fill="#cc0000"/>
<rect x="635" y="243" width="1" height="5" fill="#cc0000"/>
<rect x="632" y="219" width="7" height="24" fill="#cc0000"/>
<rect x="633" y="220" width="5" height="22" fill="#fff"/>
<rect x="642" y="215" width="1" height="22" fill="#008800"/>
<rect x="639" y="219" width="6" height="6" fill="#008800"/>
<rect x="648" y="217" width="1" height="13" fill="#cc0000"/>
<rect x="645" y="213" width="7" height="4" fill="#cc0000"/>
<rect x="646" y="214" width="5" height="2" fill="#fff"/>
<rect x="655" y="177" width="1" height="2" fill="#cc0000"/>
<rect x="655" y="213" width="1" height="6" fill="#cc0000"/>
<rect x="652" y="179" width="6" height="34" fill="#cc0000"/>
<rect x="653" y="180" width="4" height="32" fill="#fff"/>
<rect x="661" y="166" width="1" height="7" fill="#cc0000"/>
<rect x="658" y="173" width="7" height="8" fill="#cc0000"/>
<rect x="659" y="174" width="5" height="6" fill="#fff"/>
<rect x="668" y="142" width="1" height="5" fill="#cc0000"/>
<rect x="665" y="147" width="6" height="18" fill="#cc0000"/>
<rect x="666" y="148" width="4" height="16" fill="#fff"/>
<rect x="674" y="130" width="1" height="4" fill="#cc0000"/>
<rect x="674" y="145" width="1" height="12" fill="#cc0000"/>
<rect x="671" y="134" width="7" height="11" fill="#cc0000"/>
<rect x="672" y="135" width="5" height="9" fill="#fff"/>
<rect x="681" y="90" width="1" height="4" fill="#cc0000"/>
<rect x="681" y="128" width="1" height="17" fill="#cc0000"/>
<rect x="678" y="94" width="7" height="34" fill="#cc0000"/>
<rect x="679" y="95" width="5" height="32" fill="#fff"/>
<rect x="687" y="80" width="1" height="4" fill="#cc0000"/>
<rect x="687" y="94" width="1" height="10" fill="#cc0000"/>
<rect x="685" y="84" width="6" height="10" fill="#cc0000"/>
<rect x="686" y="85" width="4" height="8" fill="#fff"/>
<rect x="694" y="78" width="1" height="37" fill="#008800"/>
<rect x="691" y="78" width="7" height="18" fill="#008800"/>
<rect x="700" y="76" width="1" height="12" fill="#cc0000"/>
<rect x="700" y="96" width="1" height="12" fill="#cc0000"/>
<rect x="698" y="88" width="6" height="8" fill="#cc0000"/>
<rect x="699" y="89" width="4" height="6" fill="#fff"/>
<rect x="707" y="78" width="1" height="27" fill="#008800"/>
<rect x="704" y="86" width="7" height="2" fill="#008800"/>
<rect x="713" y="82" width="1" height="20" fill="#008800"/>
<rect x="711" y="86" width="6" height="12" fill="#008800"/>
<rect x="64" y="493" width="6" height="76" fill="#cc0000"/>
<rect x="65" y="494" width="4" height="74" fill="#fff"/>
<rect x="71" y="525" width="5" height="44" fill="#cc0000"/>
<rect x="72" y="526" width="3" height="42" fill="#fff"/>
<rect x="77" y="438" width="6" height="131" fill="#008800"/>
<rect x="84" y="460" width="5" height="109" fill="#008800"/>
<rect x="90" y="490" width="6" height="79" fill="#cc0000"/>
<rect x="91" y="491" width="4" height="77" fill="#fff"/>
<rect x="97" y="531" width="5" height="38" fill="#008800"/>
<rect x="103" y="504" width="6" height="65" fill="#008800"/>
<rect x="110" y="531" width="6" height="38" fill="#008800"/>
<rect x="117" y="538" width="5" height="31" fill="#008800"/>
<rect x="123" y="533" width="6" height="36" fill="#cc0000"/>
<rect x="124" y="534" width="4" height="34" fill="#fff"/>
<rect x="130" y="536" width="5" height="33" fill="#cc0000"/>
<rect x="131" y="537" width="3" height="31" fill="#fff"/>
<rect x="136" y="543" width="6" height="26" fill="#cc0000"/>
<rect x="137" y="544" width="4" height="24" fill="#fff"/>
<rect x="143" y="533" width="5" height="36" fill="#008800"/>
<rect x="149" y="535" width="6" height="34" fill="#008800"/>
<rect x="156" y="534" width="5" height="35" fill="#cc0000"/>
<rect x="157" y="535" width="3" height="33" fill="#fff"/>
<rect x="162" y="523" width="6" height="46" fill="#008800"/>
<rect x="169" y="538" width="5" height="31" fill="#008800"/>
<rect x="175" y="541" width="6" height="28" fill="#008800"/>
<rect x="182" y="536" width="5" height="33" fill="#008800"/>
<rect x="188" y="541" width="6" height="28" fill="#008800"/>
<rect x="195" y="540" width="5" height="29" fill="#cc0000"/>
<rect x="196" y="541" width="3" height="27" fill="#fff"/>
<rect x="201" y="532" width="6" height="37" fill="#cc0000"/>
<rect x="202" y="533" width="4" height="35" fill="#fff"/>
<rect x="208" y="529" width="6" height="40" fill="#cc0000"/>
<rect x="209" y="530" width="4" height="38" fill="#fff"/>
<rect x="215" y="538" width="5" height="31" fill="#cc0000"/>
<rect x="216" y="539" width="3" height="29" fill="#fff"/>
<rect x="221" y="538" width="6" height="31" fill="#cc0000"/>
<rect x="222" y="539" width="4" height="29" fill="#fff"/>
<rect x="228" y="523" width="5" height="46" fill="#cc0000"/>
<rect x="229" y="524" width="3" height="44" fill="#fff"/>
<rect x="234" y="537" width="6" height="32" fill="#008800"/>
<rect x="241" y="541" width="5" height="28" fill="#cc0000"/>
<rect x="242" y="542" width="3" height="26" fill="#fff"/>
<rect x="247" y="538" width="6" height="31" fill="#008800"/>
<rect x="254" y="536" width="5" height="33" fill="#008800"/>
<rect x="260" y="520" width="6" height="49" fill="#cc0000"/>
<rect x="261" y="521" width="4" height="47" fill="#fff"/>
<rect x="267" y="544" width="5" height="25" fill="#008800"/>
<rect x="273" y="538" width="6" height="31" fill="#008800"/>
<rect x="280" y="535" width="5" height="34" fill="#cc0000"/>
<rect x="281" y="536" width="3" height="32" fill="#fff"/>
<rect x="286" y="529" width="6" height="40" fill="#cc0000"/>
<rect x="287" y="530" width="4" height="38" fill="#fff"/>
<rect x="293" y="534" width="5" height="35" fill="#cc0000"/>
<rect x="294" y="535" width="3" height="33" fill="#fff"/>
<rect x="299" y="537" width="6" height="32" fill="#cc0000"/>
<rect x="300" y="538" width="4" height="30" fill="#fff"/>
<rect x="306" y="534" width="6" height="35" fill="#cc0000"/>
<rect x="307" y="535" width="4" height="33" fill="#fff"/>
<rect x="313" y="527" width="5" height="42" fill="#cc0000"/>
<rect x="314" y="528" width="3" height="40" fill="#fff"/>
<rect x="319" y="525" width="6" height="44" fill="#cc0000"/>
<rect x="320" y="526" width="4" height="42" fill="#fff"/>
<rect x="326" y="532" width="5" height="37" fill="#008800"/>
<rect x="332" y="536" width="6" height="33" fill="#008800"/>
<rect x="339" y="521" width="5" height="48" fill="#008800"/>
<rect x="345" y="537" width="6" height="32" fill="#cc0000"/>
<rect x="346" y="538" width="4" height="30" fill="#fff"/>
<rect x="352" y="498" width="5" height="71" fill="#cc0000"/>
<rect x="353" y="499" width="3" height="69" fill="#fff"/>
<rect x="358" y="534" width="6" height="35" fill="#008800"/>
<rect x="365" y="533" width="5" height="36" fill="#008800"/>
<rect x="371" y="533" width="6" height="36" fill="#008800"/>
<rect x="378" y="531" width="5" height="38" fill="#cc0000"/>
<rect x="379" y="532" width="3" height="36" fill="#fff"/>
<rect x="384" y="503" width="6" height="66" fill="#cc0000"/>
<rect x="385" y="504" width="4" height="64" fill="#fff"/>
<rect x="391" y="501" width="6" height="68" fill="#008800"/>
<rect x="398" y="520" width="5" height="49" fill="#008800"/>
<rect x="404" y="524" width="6" height="45" fill="#008800"/>
<rect x="411" y="518" width="5" height="51" fill="#008800"/>
<rect x="417" y="523" width="6" height="46" fill="#cc0000"/>
<rect x="418" y="524" width="4" height="44" fill="#fff"/>
<rect x="424" y="514" width="5" height="55" fill="#cc0000"/>
<rect x="425" y="515" width="3" height="53" fill="#fff"/>
<rect x="430" y="518" width="6" height="51" fill="#cc0000"/>
<rect x="431" y="519" width="4" height="49" fill="#fff"/>
<rect x="437" y="484" width="5" height="85" fill="#cc0000"/>
<rect x="438" y="485" width="3" height="83" fill="#fff"/>
<rect x="443" y="499" width="6" height="70" fill="#cc0000"/>
<rect x="444" y="500" width="4" height="68" fill="#fff"/>
<rect x="450" y="523" width="5" height="46" fill="#008800"/>
<rect x="456" y="514" width="6" height="55" fill="#cc0000"/>
<rect x="457" y="515" width="4" height="53" fill="#fff"/>
<rect x="463" y="529" width="5" height="40" fill="#cc0000"/>
<rect x="464" y="530" width="3" height="38" fill="#fff"/>
<rect x="469" y="526" width="6" height="43" fill="#cc0000"/>
<rect x="470" y="527" width="4" height="41" fill="#fff"/>
<rect x="476" y="417" width="5" height="152" fill="#cc0000"/>
<rect x="477" y="418" width="3" height="150" fill="#fff"/>
<rect x="482" y="392" width="6" height="177" fill="#cc0000"/>
<rect x="483" y="393" width="4" height="175" fill="#fff"/>
<rect x="489" y="368" width="6" height="201" fill="#008800"/>
<rect x="496" y="466" width="5" height="103" fill="#008800"/>
<rect x="502" y="477" width="6" height="92" fill="#cc0000"/>
<rect x="503" y="478" width="4" height="90" fill="#fff"/>
<rect x="509" y="497" width="5" height="72" fill="#008800"/>
<rect x="515" y="521" width="6" height="48" fill="#008800"/>
<rect x="522" y="518" width="5" height="51" fill="#cc0000"/>
<rect x="523" y="519" width="3" height="49" fill="#fff"/>
<rect x="528" y="521" width="6" height="48" fill="#008800"/>
<rect x="535" y="529" width="5" height="40" fill="#cc0000"/>
<rect x="536" y="530" width="3" height="38" fill="#fff"/>
<rect x="541" y="523" width="6" height="46" fill="#cc0000"/>
<rect x="542" y="524" width="4" height="44" fill="#fff"/>
<rect x="548" y="516" width="5" height="53" fill="#cc0000"/>
<rect x="549" y="517" width="3" height="51" fill="#fff"/>
<rect x="554" y="535" width="6" height="34" fill="#008800"/>
<rect x="561" y="540" width="5" height="29" fill="#008800"/>
<rect x="567" y="522" width="6" height="47" fill="#cc0000"/>
<rect x="568" y="523" width="4" height="45" fill="#fff"/>
<rect x="574" y="529" width="5" height="40" fill="#cc0000"/>
<rect x="575" y="530" width="3" height="38" fill="#fff"/>
<rect x="580" y="521" width="6" height="48" fill="#cc0000"/>
<rect x="581" y="522" width="4" height="46" fill="#fff"/>
<rect x="587" y="523" width="6" height="46" fill="#008800"/>
<rect x="594" y="514" width="5" height="55" fill="#cc0000"/>
<rect x="595" y="515" width="3" height="53" fill="#fff"/>
<rect x="600" y="498" width="6" height="71" fill="#cc0000"/>
<rect x="601" y="499" width="4" height="69" fill="#fff"/>
<rect x="607" y="520" width="5" height="49" fill="#008800"/>
<rect x="613" y="523" width="6" height="46" fill="#008800"/>
<rect x="620" y="530" width="5" height="39" fill="#008800"/>
<rect x="626" y="524" width="6" height="45" fill="#008800"/>
<rect x="633" y="525" width="5" height="44" fill="#cc0000"/>
<rect x="634" y="526" width="3" height="42" fill="#fff"/>
<rect x="639" y="526" width="6" height="43" fill="#008800"/>
<rect x="646" y="531" width="5" height="38" fill="#cc0000"/>
<rect x="647" y="532" width="3" height="36" fill="#fff"/>
<rect x="652" y="511" width="6" height="58" fill="#cc0000"/>
<rect x="653" y="512" width="4" height="56" fill="#fff"/>
<rect x="659" y="526" width="5" height="43" fill="#cc0000"/>
<rect x="660" y="527" width="3" height="41" fill="#fff"/>
<rect x="665" y="503" width="6" height="66" fill="#cc0000"/>
<rect x="666" y="504" width="4" height="64" fill="#fff"/>
<rect x="672" y="525" width="5" height="44" fill="#cc0000"/>
<rect x="673" y="526" width="3" height="42" fill="#fff"/>
<rect x="678" y="480" width="6" height="89" fill="#cc0000"/>
<rect x="679" y="481" width="4" height="87" fill="#fff"/>
<rect x="685" y="507" width="6" height="62" fill="#cc0000"/>
<rect x="686" y="508" width="4" height="60" fill="#fff"/>
<rect x="692" y="516" width="5" height="53" fill="#008800"/>
<rect x="698" y="503" width="6" height="66" fill="#cc0000"/>
<rect x="699" y="504" width="4" height="64" fill="#fff"/>
<rect x="705" y="532" width="5" height="37" fill="#008800"/>
<rect x="711" y="529" width="6" height="40" fill="#008800"/>
</g>
<polyline points="67.2,502.5 67.8,502.5 68.6,502.6 69.6,502.7 70.7,502.7 71.6,502.7 72.2,502.5 72.7,502.2 73.1,501.8 73.5,501.3 73.9,500.6 74.4,499.8 74.8,498.8 75.3,497.0 76.0,494.4 76.8,491.3 77.7,488.2 78.4,485.5 79.0,483.8 79.5,482.7 80.0,481.7 80.6,480.9 81.2,480.2 81.8,479.5 82.2,478.8 82.8,477.7 83.5,476.1 84.3,474.3 85.1,472.7 85.9,471.6 86.6,471.2 87.5,472.0 88.6,473.6 90.0,475.7 91.3,478.0 92.6,480.0 93.5,481.5 94.4,482.7 95.4,484.3 96.5,485.9 97.6,487.3 98.6,488.5 99.5,489.0 100.4,488.7 101.7,487.7 103.0,486.4 104.3,485.2 105.6,484.5 106.5,484.7 107.4,486.4 108.4,489.4 109.5,493.2 110.6,497.1 111.6,500.7 112.5,503.3 113.4,505.7 114.7,508.5 116.0,511.6 117.3,514.5 118.6,517.1 119.5,518.9 120.4,520.4 121.4,522.1 122.5,523.8 123.6,525.3 124.6,526.6 125.5,527.4 126.4,527.8 127.7,527.9 129.0,527.9 130.3,527.9 131.6,528.0 132.5,528.4 133.4,529.3 134.4,530.7 135.5,532.3 136.6,534.0 137.6,535.4 138.5,536.2 139.4,536.6 140.7,536.7 142.0,536.8 143.3,536.7 144.6,536.6 145.5,536.6 146.4,536.6 147.4,536.4 148.5,536.3 149.6,536.2 150.6,536.1 151.5,536.0 152.4,536.0 153.6,536.1 155.0,536.2 156.3,536.3 157.5,536.3 158.5,536.2 159.5,535.9 160.7,535.5 162.0,535.0 163.4,534.4 164.6,533.9 165.5,533.6 166.4,533.4 167.4,533.1 168.5,532.9 169.6,532.7 170.6,532.6 171.5,532.6 172.4,532.7 173.7,533.0 175.0,533.3 176.3,533.7 177.6,534.0 178.5,534.2 179.4,534.3 180.4,534.3 181.5,534.3 182.6,534.3 183.6,534.3 184.5,534.4 185.4,534.5 186.7,534.7 188.0,535.0 189.3,535.2 190.6,535.5 191.5,535.8 192.4,536.2 193.4,536.9 194.5,537.6 195.6,538.3 196.6,538.9 197.5,539.2 198.4,539.2 199.7,539.1 201.0,538.9 202.3,538.6 203.6,538.3 204.5,538.0 205.4,537.7 206.4,537.2 207.5,536.7 208.6,536.2 209.6,535.8 210.5,535.6 211.4,535.6 212.7,535.6 214.0,535.8 215.3,535.9 216.6,536.0 217.5,536.1 218.4,536.1 219.4,536.1 220.5,536.0 221.6,535.9 222.6,535.8 223.5,535.6 224.4,535.2 225.7,534.6 227.0,533.8 228.3,533.1 229.6,532.5 230.5,532.2 231.4,532.1 232.4,532.2 233.5,532.4 234.6,532.7 235.6,533.0 236.5,533.2 237.4,533.5 238.6,533.9 240.0,534.4 241.3,534.9 242.5,535.4 243.5,535.6 244.5,535.7 245.7,535.7 247.0,535.7 248.4,535.6 249.6,535.6 250.5,535.5 251.4,535.4 252.4,535.4 253.5,535.3 254.6,535.2 255.6,535.1 256.5,535.0 257.4,534.9 258.7,534.8 260.0,534.6 261.3,534.5 262.6,534.4 263.5,534.4 264.4,534.5 265.4,534.8 266.5,535.1 267.6,535.4 268.6,535.7 269.5,535.8 270.4,535.8 271.7,535.7 273.0,535.6 274.3,535.4 275.6,535.3 276.5,535.2 277.4,535.1 278.4,535.0 279.5,534.9 280.6,534.8 281.6,534.7 282.5,534.6 283.4,534.4 284.7,534.1 286.0,533.7 287.3,533.4 288.6,533.2 289.5,533.2 290.4,533.5 291.4,534.0 292.5,534.6 293.6,535.3 294.6,535.8 295.5,536.1 296.4,536.1 297.7,535.9 299.0,535.6 300.3,535.2 301.6,534.9 302.5,534.7 303.4,534.6 304.4,534.4 305.5,534.3 306.6,534.2 307.6,534.0 308.5,533.9 309.4,533.7 310.7,533.4 312.0,533.1 313.3,532.8 314.6,532.5 315.5,532.3 316.4,532.2 317.4,532.0 318.5,531.9 319.6,531.7 320.6,531.6 321.5,531.5 322.4,531.4 323.7,531.3 325.0,531.2 326.3,531.1 327.6,531.1 328.5,531.0 329.4,531.0 330.4,531.0 331.5,531.0 332.6,531.0 333.6,530.9 334.5,530.8 335.4,530.5 336.6,530.0 338.0,529.4 339.3,528.8 340.5,528.4 341.5,528.2 342.5,528.4 343.7,528.8 345.0,529.3 346.4,529.8 347.6,530.2 348.5,530.2 349.4,529.7 350.4,528.8 351.5,527.6 352.6,526.4 353.6,525.4 354.5,524.8 355.4,524.6 356.7,524.6 358.0,524.8 359.3,525.0 360.6,525.1 361.5,525.2 362.4,525.1 363.4,525.0 364.5,524.8 365.6,524.7 366.6,524.6 367.5,524.6 368.4,524.8 369.7,525.3 371.0,525.8 372.3,526.4 373.6,526.8 374.5,527.0 375.4,527.0 376.4,526.8 377.5,526.5 378.6,526.2 379.6,525.9 380.5,525.8 381.4,525.9 382.7,526.2 384.0,526.5 385.3,526.8 386.6,527.0 387.5,526.8 388.4,526.2 389.4,525.0 390.5,523.7 391.6,522.2 392.6,521.0 393.5,520.2 394.4,519.7 395.7,519.2 397.0,518.7 398.3,518.3 399.6,517.9 400.5,517.6 401.4,517.3 402.4,517.0 403.5,516.7 404.6,516.4 405.6,516.1 406.5,515.8 407.4,515.4 408.7,514.9 410.0,514.2 411.3,513.7 412.6,513.3 413.5,513.2 414.4,513.5 415.4,514.1 416.5,515.0 417.6,515.9 418.6,516.6 419.5,517.2 420.4,517.7 421.7,518.2 423.0,518.7 424.3,519.2 425.6,519.7 426.5,519.9 427.4,520.0 428.4,520.2 429.5,520.2 430.6,520.2 431.6,520.0 432.5,519.6 433.4,518.8 434.6,517.4 436.0,515.8 437.3,514.1 438.5,512.6 439.5,511.6 440.5,510.9 441.7,510.1 443.0,509.4 444.4,508.7 445.6,508.1 446.5,507.8 447.4,507.6 448.4,507.6 449.5,507.6 450.6,507.7 451.6,507.8 452.5,507.8 453.4,507.8 454.7,507.7 456.0,507.7 457.3,507.6 458.6,507.6 459.5,507.7 460.4,507.9 461.4,508.1 462.5,508.4 463.6,508.8 464.6,509.2 465.5,509.8 466.4,510.9 467.7,512.7 469.0,514.8 470.3,516.7 471.6,518.0 472.5,518.2 473.4,517.0 474.4,514.6 475.5,511.5 476.6,508.1 477.6,504.7 478.5,501.8 479.4,498.6 480.7,494.2 482.0,489.3 483.3,484.2 484.6,479.4 485.5,475.6 486.4,471.5 487.4,466.2 488.5,460.4 489.6,454.7 490.6,449.8 491.5,446.4 492.4,444.0 493.7,441.5 495.0,439.3 496.3,437.1 497.6,435.3 498.5,433.8 499.4,432.1 500.4,429.9 501.5,427.6 502.6,425.6 503.6,424.3 504.5,424.0 505.4,425.1 506.7,427.4 508.0,430.4 509.3,433.8 510.6,437.2 511.5,440.0 512.4,443.2 513.4,447.4 514.5,452.3 515.6,457.3 516.6,462.0 517.5,465.8 518.4,470.0 519.7,475.4 521.0,481.4 522.3,487.3 523.6,492.4 524.5,495.8 525.4,498.1 526.4,500.2 527.5,502.2 528.6,503.9 529.6,505.5 530.5,506.8 531.4,508.3 532.6,510.2 534.0,512.3 535.3,514.2 536.5,516.0 537.5,517.2 538.5,518.2 539.7,519.2 541.0,520.3 542.4,521.2 543.6,522.0 544.5,522.4 545.4,522.5 546.4,522.3 547.5,522.0 548.6,521.6 549.6,521.4 550.5,521.4 551.4,521.7 552.7,522.2 554.0,522.9 555.3,523.6 556.6,524.3 557.5,524.8 558.4,525.4 559.4,526.1 560.5,526.9 561.6,527.7 562.6,528.3 563.5,528.6 564.4,528.6 565.7,528.4 567.0,528.0 568.3,527.6 569.6,527.3 570.5,527.2 571.4,527.3 572.4,527.4 573.5,527.7 574.6,528.0 575.6,528.2 576.5,528.4 577.4,528.6 578.7,528.8 580.0,529.1 581.3,529.3 582.6,529.4 583.5,529.4 584.4,529.2 585.4,528.9 586.5,528.5 587.6,528.0 588.6,527.5 589.5,527.0 590.4,526.4 591.7,525.5 593.0,524.5 594.3,523.5 595.6,522.5 596.5,521.8 597.4,521.1 598.4,520.2 599.5,519.3 600.6,518.3 601.6,517.5 602.5,517.0 603.4,516.6 604.7,516.2 606.0,515.9 607.3,515.6 608.6,515.3 609.5,515.2 610.4,515.2 611.4,515.2 612.5,515.3 613.6,515.4 614.6,515.5 615.5,515.6 616.4,515.7 617.6,516.0 619.0,516.2 620.3,516.5 621.5,516.8 622.5,517.0 623.5,517.2 624.7,517.5 626.0,517.8 627.4,518.2 628.6,518.6 629.5,519.0 630.4,519.6 631.4,520.6 632.5,521.7 633.6,522.8 634.6,523.8 635.5,524.4 636.4,524.7 637.7,525.0 639.0,525.2 640.3,525.3 641.6,525.5 642.5,525.6 643.4,525.8 644.4,526.2 645.5,526.6 646.6,527.0 647.6,527.2 648.5,527.2 649.4,526.9 650.7,526.2 652.0,525.4 653.3,524.5 654.6,523.8 655.5,523.4 656.4,523.3 657.4,523.4 658.5,523.6 659.6,523.8 660.6,523.9 661.5,523.8 662.4,523.4 663.7,522.6 665.0,521.7 666.3,520.7 667.6,520.0 668.5,519.5 669.4,519.4 670.4,519.5 671.5,519.7 672.6,519.8 673.6,519.7 674.5,519.3 675.4,518.2 676.7,516.4 678.0,514.2 679.3,512.0 680.6,510.2 681.5,509.1 682.4,508.6 683.4,508.4 684.5,508.3 685.6,508.4 686.6,508.4 687.5,508.3 688.4,508.1 689.7,507.7 691.0,507.3 692.3,506.9 693.6,506.5 694.5,506.3 695.4,506.2 696.4,506.1 697.5,506.1 698.6,506.1 699.6,506.1 700.5,506.2 701.4,506.3 702.7,506.3 704.0,506.5 705.3,506.7 706.6,507.1 707.5,507.6 708.4,508.7 709.6,510.5 710.8,512.6 712.0,514.6 712.9,516.4 713.5,517.4" stroke="#aa46ff" fill="none" shape-rendering="crispEdges"/>
<polyline points="67.2,514.5 67.8,514.6 68.7,514.7 69.8,514.9 70.9,515.0 72.1,514.9 73.0,514.5 74.0,513.6 75.4,512.1 76.9,510.3 78.4,508.4 79.8,506.7 81.0,505.4 82.2,504.2 83.8,502.7 85.6,501.1 87.3,499.6 88.7,498.4 89.8,497.5 90.5,497.0 91.1,496.5 91.7,496.1 92.3,495.8 92.9,495.6 93.5,495.4 94.3,495.3 95.3,495.3 96.5,495.4 97.7,495.4 98.9,495.5 99.8,495.4 100.6,495.2 101.7,494.8 102.9,494.4 104.1,494.0 105.1,493.6 106.0,493.4 106.9,493.3 107.9,493.3 109.1,493.3 110.3,493.3 111.4,493.3 112.2,493.4 113.1,493.4 114.2,493.4 115.3,493.5 116.5,493.6 117.6,493.9 118.5,494.4 119.4,495.5 120.6,497.2 122.0,499.3 123.3,501.4 124.5,503.2 125.5,504.4 126.5,505.3 127.7,506.1 129.0,506.9 130.4,507.7 131.6,508.3 132.5,508.7 133.4,509.0 134.4,509.2 135.5,509.4 136.6,509.6 137.6,509.9 138.5,510.5 139.4,511.5 140.7,513.1 142.0,515.0 143.3,516.9 144.6,518.7 145.5,520.0 146.4,521.1 147.4,522.5 148.5,523.9 149.6,525.3 150.6,526.6 151.5,527.5 152.4,528.2 153.6,529.1 155.0,530.0 156.3,530.8 157.5,531.4 158.5,531.8 159.5,531.9 160.7,531.7 162.0,531.4 163.4,531.2 164.6,531.0 165.5,531.0 166.4,531.3 167.4,531.9 168.5,532.6 169.6,533.4 170.6,534.0 171.5,534.4 172.4,534.6 173.7,534.9 175.0,535.1 176.3,535.2 177.6,535.3 178.5,535.4 179.4,535.4 180.4,535.4 181.5,535.3 182.6,535.2 183.6,535.2 184.5,535.2 185.4,535.3 186.7,535.4 188.0,535.6 189.3,535.7 190.6,535.9 191.5,536.0 192.4,536.1 193.4,536.2 194.5,536.3 195.6,536.4 196.6,536.4 197.5,536.4 198.4,536.3 199.7,536.1 201.0,535.9 202.3,535.6 203.6,535.4 204.5,535.3 205.4,535.2 206.4,535.1 207.5,535.0 208.6,535.0 209.6,534.9 210.5,534.9 211.4,534.9 212.7,535.0 214.0,535.0 215.3,535.1 216.6,535.2 217.5,535.2 218.4,535.3 219.4,535.4 220.5,535.5 221.6,535.6 222.6,535.7 223.5,535.7 224.4,535.7 225.7,535.7 227.0,535.7 228.3,535.7 229.6,535.7 230.5,535.7 231.4,535.7 232.4,535.7 233.5,535.7 234.6,535.6 235.6,535.6 236.5,535.6 237.4,535.6 238.6,535.6 240.0,535.6 241.3,535.6 242.5,535.6 243.5,535.6 244.5,535.6 245.7,535.7 247.0,535.7 248.4,535.8 249.6,535.8 250.5,535.8 251.4,535.8 252.4,535.7 253.5,535.6 254.6,535.6 255.6,535.4 256.5,535.3 257.4,535.1 258.7,534.7 260.0,534.2 261.3,533.8 262.6,533.5 263.5,533.3 264.4,533.3 265.4,533.5 266.5,533.8 267.6,534.1 268.6,534.3 269.5,534.5 270.4,534.6 271.7,534.8 273.0,535.0 274.3,535.2 275.6,535.3 276.5,535.4 277.4,535.4 278.4,535.4 279.5,535.3 280.6,535.2 281.6,535.1 282.5,535.0 283.4,534.9 284.7,534.7 286.0,534.5 287.3,534.3 288.6,534.2 289.5,534.1 290.4,534.2 291.4,534.4 292.5,534.6 293.6,534.9 294.6,535.1 295.5,535.2 296.4,535.3 297.7,535.3 299.0,535.3 300.3,535.3 301.6,535.3 302.5,535.2 303.4,535.2 304.4,535.1 305.5,534.9 306.6,534.8 307.6,534.7 308.5,534.5 309.4,534.4 310.7,534.2 312.0,534.0 313.3,533.8 314.6,533.6 315.5,533.5 316.4,533.3 317.4,533.0 318.5,532.8 319.6,532.6 320.6,532.4 321.5,532.4 322.4,532.4 323.7,532.7 325.0,532.9 326.3,533.2 327.6,533.4 328.5,533.5 329.4,533.5 330.4,533.4 331.5,533.3 332.6,533.1 333.6,532.9 334.5,532.8 335.4,532.5 336.6,532.2 338.0,531.9 339.3,531.5 340.5,531.2 341.5,531.0 342.5,531.0 343.7,531.1 345.0,531.2 346.4,531.3 347.6,531.3 348.5,531.2 349.4,530.9 350.4,530.4 351.5,529.7 352.6,529.0 353.6,528.5 354.5,528.1 355.4,528.0 356.7,528.0 358.0,528.0 359.3,528.1 360.6,528.1 361.5,528.1 362.4,528.1 363.4,528.0 364.5,527.9 365.6,527.8 366.6,527.7 367.5,527.7 368.4,527.7 369.7,527.6 371.0,527.6 372.3,527.6 373.6,527.6 374.5,527.6 375.4,527.7 376.4,527.8 377.5,527.9 378.6,528.0 379.6,528.0 380.5,528.0 381.4,527.8 382.7,527.5 384.0,527.1 385.3,526.6 386.6,526.2 387.5,525.8 388.4,525.4 389.4,524.8 390.5,524.2 391.6,523.6 392.6,523.1 393.5,522.7 394.4,522.4 395.7,522.1 397.0,521.8 398.3,521.5 399.6,521.2 400.5,521.1 401.4,521.1 402.4,521.2 403.5,521.3 404.6,521.4 405.6,521.4 406.5,521.4 407.4,521.2 408.7,520.8 410.0,520.4 411.3,519.9 412.6,519.6 413.5,519.5 414.4,519.7 415.4,520.2 416.5,520.8 417.6,521.3 418.6,521.8 419.5,522.0 420.4,521.9 421.7,521.6 423.0,521.2 424.3,520.7 425.6,520.3 426.5,520.0 427.4,519.9 428.4,519.7 429.5,519.5 430.6,519.2 431.6,518.9 432.5,518.6 433.4,518.0 434.6,517.2 436.0,516.2 437.3,515.2 438.5,514.3 439.5,513.7 440.5,513.1 441.7,512.5 443.0,511.8 444.4,511.2 445.6,510.7 446.5,510.5 447.4,510.6 448.4,510.9 449.5,511.3 450.6,511.8 451.6,512.2 452.5,512.5 453.4,512.7 454.7,513.0 456.0,513.2 457.3,513.4 458.6,513.6 459.5,513.8 460.4,513.9 461.4,514.1 462.5,514.3 463.6,514.5 464.6,514.6 465.5,514.7 466.4,514.8 467.7,515.1 469.0,515.3 470.3,515.4 471.6,515.3 472.5,514.9 473.4,513.9 474.4,512.4 475.5,510.4 476.6,508.4 477.6,506.4 478.5,504.8 479.4,503.1 480.7,500.9 482.0,498.4 483.3,495.9 484.6,493.6 485.5,491.7 486.4,489.7 487.4,487.0 488.5,484.0 489.6,481.2 490.6,478.7 491.5,477.1 492.4,475.9 493.7,474.8 495.0,473.8 496.3,473.0 497.6,472.3 498.5,471.8 499.4,471.5 500.4,471.3 501.5,471.2 502.6,471.2 503.6,471.1 504.5,471.1 505.4,471.1 506.7,471.0 508.0,471.0 509.3,470.9 510.6,470.9 511.5,470.9 512.4,470.9 513.4,470.8 514.5,470.8 515.6,470.7 516.6,470.7 517.5,470.7 518.4,470.7 519.7,470.8 521.0,470.9 522.3,471.0 523.6,471.1 524.5,471.1 525.4,471.0 526.4,470.9 527.5,470.7 528.6,470.5 529.6,470.4 530.5,470.3 531.4,470.2 532.6,470.1 534.0,470.0 535.3,469.9 536.5,470.1 537.5,470.6 538.5,471.6 539.7,473.3 541.0,475.4 542.4,477.5 543.6,479.6 544.5,481.2 545.4,482.8 546.4,484.9 547.5,487.1 548.6,489.5 549.6,491.7 550.5,493.6 551.4,495.8 552.7,498.8 554.0,502.2 555.3,505.5 556.6,508.3 557.5,510.3 558.4,511.7 559.4,513.2 560.5,514.5 561.6,515.8 562.6,516.9 563.5,517.7 564.4,518.5 565.7,519.3 567.0,520.1 568.3,520.9 569.6,521.7 570.5,522.2 571.4,522.7 572.4,523.3 573.5,524.0 574.6,524.6 575.6,525.1 576.5,525.4 577.4,525.5 578.7,525.6 580.0,525.5 581.3,525.5 582.6,525.4 583.5,525.4 584.4,525.5 585.4,525.6 586.5,525.7 587.6,525.8 588.6,525.9 589.5,525.9 590.4,525.9 591.7,525.8 593.0,525.7 594.3,525.6 595.6,525.4 596.5,525.2 597.4,524.8 598.4,524.3 599.5,523.6 600.6,523.0 601.6,522.4 602.5,522.1 603.4,521.9 604.7,521.8 606.0,521.8 607.3,521.8 608.6,521.8 609.5,521.8 610.4,521.9 611.4,522.0 612.5,522.2 613.6,522.3 614.6,522.4 615.5,522.5 616.4,522.5 617.6,522.4 619.0,522.4 620.3,522.2 621.5,522.1 622.5,522.0 623.5,521.8 624.7,521.5 626.0,521.2 627.4,520.8 628.6,520.6 629.5,520.4 630.4,520.4 631.4,520.4 632.5,520.5 633.6,520.6 634.6,520.7 635.5,520.7 636.4,520.7 637.7,520.6 639.0,520.5 640.3,520.4 641.6,520.4 642.5,520.4 643.4,520.5 644.4,520.7 645.5,520.9 646.6,521.2 647.6,521.3 648.5,521.4 649.4,521.3 650.7,521.1 652.0,520.8 653.3,520.5 654.6,520.3 655.5,520.2 656.4,520.3 657.4,520.5 658.5,520.7 659.6,521.0 660.6,521.2 661.5,521.4 662.4,521.5 663.7,521.6 665.0,521.7 666.3,521.8 667.6,521.9 668.5,522.0 669.4,522.1 670.4,522.2 671.5,522.4 672.6,522.5 673.6,522.6 674.5,522.5 675.4,522.0 676.7,521.3 678.0,520.4 679.3,519.5 680.6,518.7 681.5,518.1 682.4,517.7 683.4,517.3 684.5,516.8 685.6,516.4 686.6,516.1 687.5,515.9 688.4,515.7 689.7,515.6 691.0,515.4 692.3,515.3 693.6,515.2 694.5,515.0 695.4,514.8 696.4,514.4 697.5,513.9 698.6,513.4 699.6,513.1 700.5,512.9 701.4,512.8 702.7,512.9 704.0,513.1 705.3,513.2 706.6,513.4 707.5,513.5 708.4,513.5 709.6,513.4 710.8,513.4 712.0,513.3 712.9,513.3 713.5,513.2" stroke="#cccc00" fill="none" shape-rendering="crispEdges"/>
<g fill="#ff0000" shape-rendering="crispEdges">
<polygon points="385.5,154.5 394.6,178.5 385.5,171.5 376.4,178.5"/>
<rect x="384" y="168" width="3" height="41"/>
</g>
<g font-family="'Liberation Sans','Noto Serif CJK SC',sans-serif">
<text x="8.5" y="24" font-family="'Liberation Sans',sans-serif" font-size="19" fill="#999999" stroke="#999999" stroke-width="0.5" textLength="64.5" lengthAdjust="spacingAndGlyphs">002998</text>
<text y="21" font-size="16" fill="#000" stroke="#000" stroke-width="0.2" ><tspan x="79" font-size="16">优</tspan><tspan x="95" font-size="16">彩</tspan><tspan x="111" font-size="16">资</tspan><tspan x="127" font-size="16">源</tspan></text>
<text y="20" font-size="15.4" fill="#dd0000" stroke="#dd0000" stroke-width="0.2" ><tspan x="397.2" textLength="7.6" lengthAdjust="spacingAndGlyphs">9</tspan><tspan x="405.32">.</tspan><tspan x="413.2" textLength="7.6" lengthAdjust="spacingAndGlyphs">0</tspan><tspan x="421.2" textLength="7.6" lengthAdjust="spacingAndGlyphs">0</tspan><tspan x="430.86"> </tspan><tspan x="437.2" textLength="7.6" lengthAdjust="spacingAndGlyphs">+</tspan><tspan x="445.2" textLength="7.6" lengthAdjust="spacingAndGlyphs">0</tspan><tspan x="453.32">.</tspan><tspan x="461.2" textLength="7.6" lengthAdjust="spacingAndGlyphs">1</tspan><tspan x="469.2" textLength="7.6" lengthAdjust="spacingAndGlyphs">4</tspan><tspan x="478.86 486.44"> (</tspan><tspan x="493.2" textLength="7.6" lengthAdjust="spacingAndGlyphs">+</tspan><tspan x="501.2" textLength="7.6" lengthAdjust="spacingAndGlyphs">1</tspan><tspan x="509.32">.</tspan><tspan x="517.2" textLength="7.6" lengthAdjust="spacingAndGlyphs">5</tspan><tspan x="525.2" textLength="7.6" lengthAdjust="spacingAndGlyphs">8</tspan><tspan x="533.2" textLength="7.6" lengthAdjust="spacingAndGlyphs">%</tspan><tspan x="542.44">)</tspan></text>
<text y="43" font-size="11" fill="#0050a0" stroke="#0050a0" stroke-width="0.2" ><tspan x="66.2" textLength="5.6" lengthAdjust="spacingAndGlyphs">M</tspan><tspan x="72.2" textLength="5.6" lengthAdjust="spacingAndGlyphs">A</tspan><tspan x="77.94 85.47 89.94 96.37 101.94 107.94">5:7.32</tspan></text>
<text y="43" font-size="11" fill="#aa46ff" stroke="#aa46ff" stroke-width="0.2" ><tspan x="284.2" textLength="5.6" lengthAdjust="spacingAndGlyphs">M</tspan><tspan x="290.2" textLength="5.6" lengthAdjust="spacingAndGlyphs">A</tspan><tspan x="295.94 301.94 309.47 313.94 320.37 325.94 331.94">10:7.18</tspan></text>
<text y="43" font-size="11" fill="#c2c200" stroke="#c2c200" stroke-width="0.3" ><tspan x="503.2" textLength="5.6" lengthAdjust="spacingAndGlyphs">M</tspan><tspan x="509.2" textLength="5.6" lengthAdjust="spacingAndGlyphs">A</tspan><tspan x="514.94 520.94 528.47 532.94 539.37 544.94 550.94">30:6.83</tspan></text>
<text y="370" font-size="11" fill="#aa46ff" stroke="#aa46ff" stroke-width="0.2" ><tspan x="66.2" textLength="5.6" lengthAdjust="spacingAndGlyphs">M</tspan><tspan x="72.2" textLength="5.6" lengthAdjust="spacingAndGlyphs">A</tspan><tspan x="78.2" textLength="5.6" lengthAdjust="spacingAndGlyphs">V</tspan><tspan x="84.2" textLength="5.6" lengthAdjust="spacingAndGlyphs">O</tspan><tspan x="89.94 95.94 103.47 107.94 113.94 119.94 125.94 131.94">L5:28813</tspan></text>
<text y="370" font-size="11" fill="#c2c200" stroke="#c2c200" stroke-width="0.3" ><tspan x="393.2" textLength="5.6" lengthAdjust="spacingAndGlyphs">M</tspan><tspan x="399.2" textLength="5.6" lengthAdjust="spacingAndGlyphs">A</tspan><tspan x="405.2" textLength="5.6" lengthAdjust="spacingAndGlyphs">V</tspan><tspan x="411.2" textLength="5.6" lengthAdjust="spacingAndGlyphs">O</tspan><tspan x="416.94 422.94 428.94 436.47 440.94 446.94 452.94 458.94 464.94">L10:31736</tspan></text>
<text y="93" font-size="11" fill="#000" stroke="#000" stroke-width="0.2" ><tspan x="11.79 17.94 24.37 29.94">+0.0</tspan><tspan x="36.2" textLength="5.6" lengthAdjust="spacingAndGlyphs">%</tspan></text>
<text y="167" font-size="11" fill="#008c00" stroke="#008c00" stroke-width="0.2" ><tspan x="12.2" textLength="5.6" lengthAdjust="spacingAndGlyphs">-</tspan><tspan x="17.94 24.37 29.94">5.0</tspan><tspan x="36.2" textLength="5.6" lengthAdjust="spacingAndGlyphs">%</tspan></text>
<text y="240" font-size="11" fill="#008c00" stroke="#008c00" stroke-width="0.2" ><tspan x="12.2" textLength="5.6" lengthAdjust="spacingAndGlyphs">-</tspan><tspan x="17.94 23.94 30.37 35.94">10.0</tspan><tspan x="42.2" textLength="5.6" lengthAdjust="spacingAndGlyphs">%</tspan></text>
<text y="314" font-size="11" fill="#008c00" stroke="#008c00" stroke-width="0.2" ><tspan x="12.2" textLength="5.6" lengthAdjust="spacingAndGlyphs">-</tspan><tspan x="17.94 23.94 30.37 35.94">15.0</tspan><tspan x="42.2" textLength="5.6" lengthAdjust="spacingAndGlyphs">%</tspan></text>
<text y="93" font-size="11" fill="#000" stroke="#000" stroke-width="0.2" ><tspan x="721.94 728.37 733.94 739.94">7.33</tspan></text>
<text y="167" font-size="11" fill="#008c00" stroke="#008c00" stroke-width="0.2" ><tspan x="721.94 728.37 733.94 739.94">6.96</tspan></text>
<text y="240" font-size="11" fill="#008c00" stroke="#008c00" stroke-width="0.2" ><tspan x="721.94 728.37 733.94 739.94">6.60</tspan></text>
<text y="314" font-size="11" fill="#008c00" stroke="#008c00" stroke-width="0.2" ><tspan x="721.94 728.37 733.94 739.94">6.23</tspan></text>
<text y="386" font-size="11" fill="#000" stroke="#000" stroke-width="0.2" ><tspan x="723.94 729.94 735.94 741.94 747.94 753.94">120000</tspan></text>
<text y="415" font-size="11" fill="#000" stroke="#000" stroke-width="0.2" ><tspan x="723.94 729.94 735.94 741.94 747.94 753.94">100000</tspan></text>
<text y="445" font-size="11" fill="#000" stroke="#000" stroke-width="0.2" ><tspan x="723.94 729.94 735.94 741.94 747.94">80000</tspan></text>
<text y="474" font-size="11" fill="#000" stroke="#000" stroke-width="0.2" ><tspan x="723.94 729.94 735.94 741.94 747.94">60000</tspan></text>
<text y="504" font-size="11" fill="#000" stroke="#000" stroke-width="0.2" ><tspan x="723.94 729.94 735.94 741.94 747.94">40000</tspan></text>
<text y="533" font-size="11" fill="#000" stroke="#000" stroke-width="0.2" ><tspan x="723.94 729.94 735.94 741.94 747.94">20000</tspan></text>
<text y="246.5" font-size="19.75" fill="#ff0000" stroke="#ff0000" stroke-width="0.5" transform="scale(0.8,1)" font-family="'DejaVu Sans',sans-serif" font-weight="200"><tspan x="418.72 431.22 443.72 456.22">2022</tspan><tspan x="469" textLength="12" lengthAdjust="spacingAndGlyphs">-</tspan><tspan x="481.22 493.72">11</tspan><tspan x="506.5" textLength="12" lengthAdjust="spacingAndGlyphs">-</tspan><tspan x="518.72 531.22">22</tspan></text>
<text y="582" font-size="11" fill="#000" stroke="#000" stroke-width="0.2" ><tspan x="171.94 177.94">10</tspan><tspan x="184" font-size="12">月</tspan></text>
<text y="582" font-size="11" fill="#000" stroke="#000" stroke-width="0.2" ><tspan x="276.94 282.94">11</tspan><tspan x="289" font-size="12">月</tspan></text>
<text y="582" font-size="11" fill="#000" stroke="#000" stroke-width="0.2" ><tspan x="419.94 425.94">12</tspan><tspan x="432" font-size="12">月</tspan></text>
<text y="582" font-size="11" fill="#000" stroke="#000" stroke-width="0.2" ><tspan x="566.94">1</tspan><tspan x="573" font-size="12">月</tspan></text>
<text y="582" font-size="11" fill="#000" stroke="#000" stroke-width="0.2" ><tspan x="671.94">2</tspan><tspan x="678" font-size="12">月</tspan></text>
<text y="596" font-size="11" fill="#ff0000" stroke="#ff0000" stroke-width="0.2" ><tspan x="557.94 563.94 569.94 575.94">2023</tspan><tspan x="582" font-size="12">年</tspan></text>
</g>
</svg>
<div id="bd"></div>
</body></html>
